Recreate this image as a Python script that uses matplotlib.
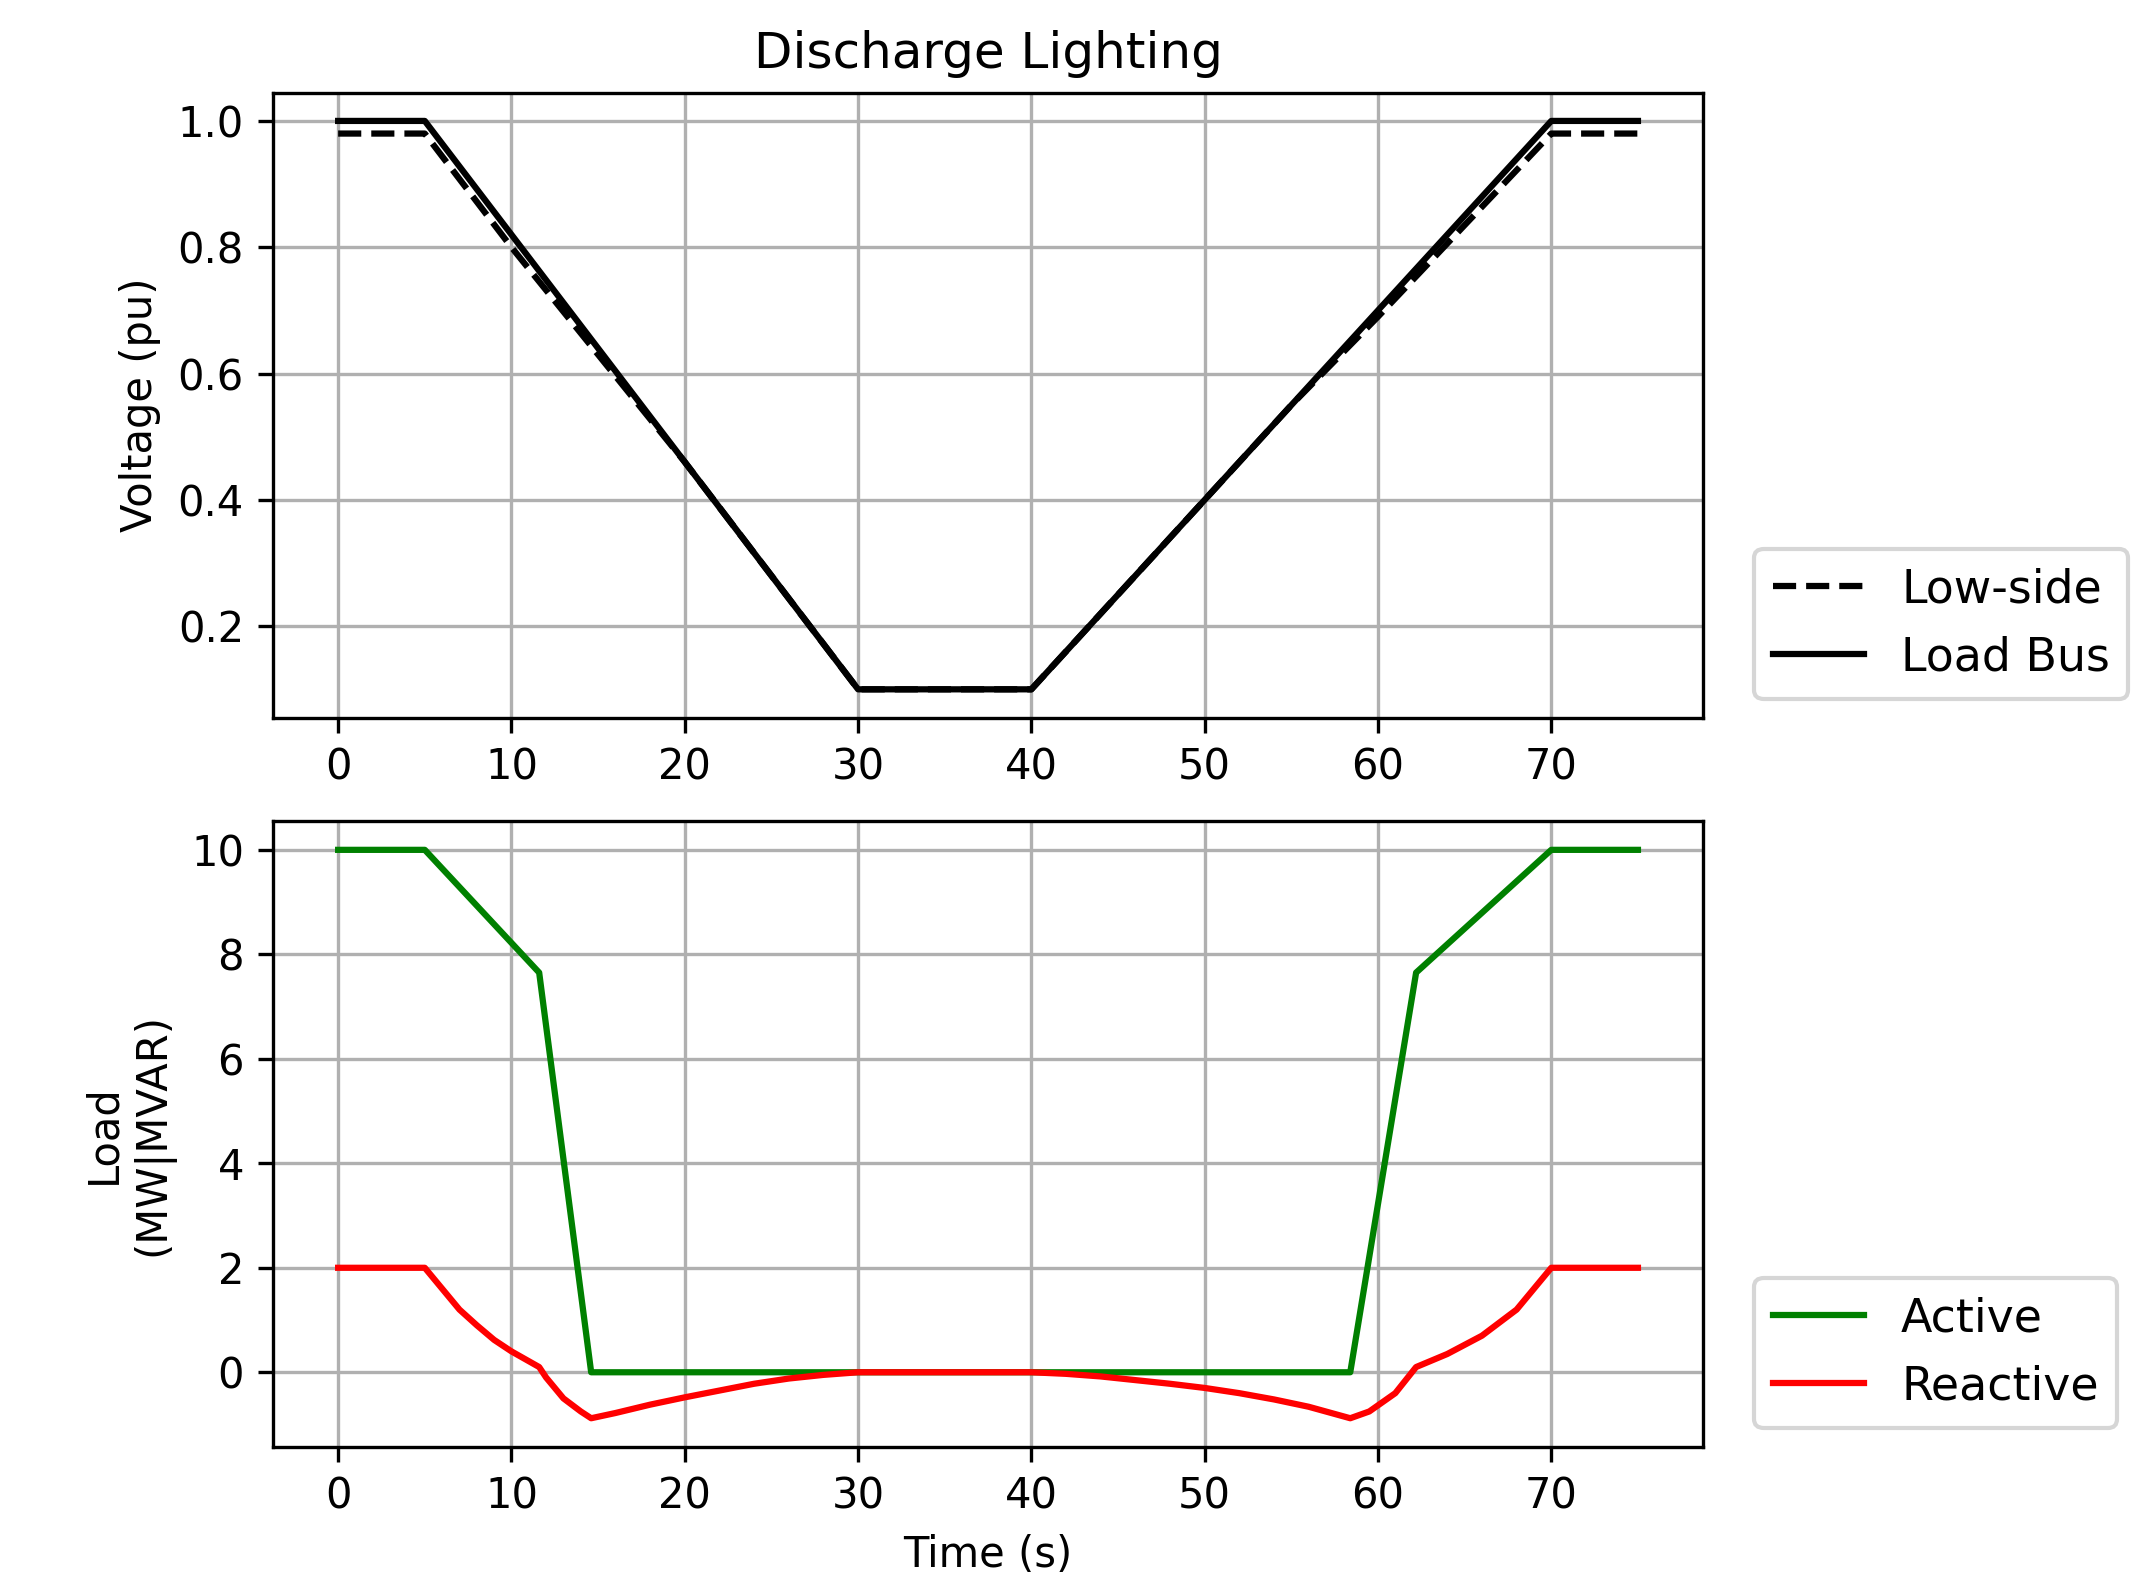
import matplotlib
matplotlib.use("Agg")
import matplotlib.pyplot as plt

t_v = [0, 5, 10, 15, 20, 25, 30, 35, 40, 45, 50, 55, 60, 65, 70, 75]
v_load = [1.0, 1.0, 0.82, 0.64, 0.46, 0.28, 0.1, 0.1, 0.1, 0.25, 0.4, 0.55, 0.7, 0.85, 1.0, 1.0]
v_low = [0.98, 0.98, 0.80, 0.63, 0.46, 0.28, 0.1, 0.1, 0.1, 0.25, 0.4, 0.55, 0.69, 0.835, 0.98, 0.98]

t_p = [0, 5, 11.6, 14.6, 58.4, 62.2, 70, 75]
p_active = [10, 10, 7.65, 0, 0, 7.65, 10, 10]

t_q = [0, 5, 6, 7, 8, 9, 10, 11.6, 12, 13, 14, 14.6, 16, 18, 20, 22, 24, 26, 28, 30,
       40, 42, 44, 46, 48, 50, 52, 54, 56, 58.4, 59.5, 61, 62.2, 64, 66, 68, 70, 75]
q_reactive = [2, 2, 1.6, 1.2, 0.9, 0.62, 0.4, 0.1, -0.1, -0.5, -0.75, -0.88, -0.78, -0.62,
              -0.48, -0.35, -0.22, -0.12, -0.05, 0, 0, -0.03, -0.08, -0.15, -0.22, -0.3,
              -0.4, -0.52, -0.66, -0.88, -0.75, -0.4, 0.1, 0.35, 0.7, 1.2, 2, 2]

fig = plt.figure(figsize=(2134/300, 1595/300), dpi=300)
ax1 = fig.add_axes([0.128, 0.550, 0.670, 0.392])
ax2 = fig.add_axes([0.128, 0.093, 0.670, 0.392])

ax1.plot(t_v, v_low, 'k--', label='Low-side')
ax1.plot(t_v, v_load, 'k-', label='Load Bus')
ax1.set_title('Discharge Lighting', fontsize=12)
ax1.set_ylabel('Voltage (pu)')
ax1.grid(True)
ax1.legend(loc='center left', bbox_to_anchor=(1.02, 0.15), fontsize=11)

ax2.plot(t_p, p_active, color='green', label='Active')
ax2.plot(t_q, q_reactive, color='red', label='Reactive')
ax2.set_ylabel('Load\n(MW|MVAR)')
ax2.set_xlabel('Time (s)')
ax2.grid(True)
ax2.legend(loc='center left', bbox_to_anchor=(1.02, 0.15), fontsize=11)

fig.savefig('out.png', dpi=300)
